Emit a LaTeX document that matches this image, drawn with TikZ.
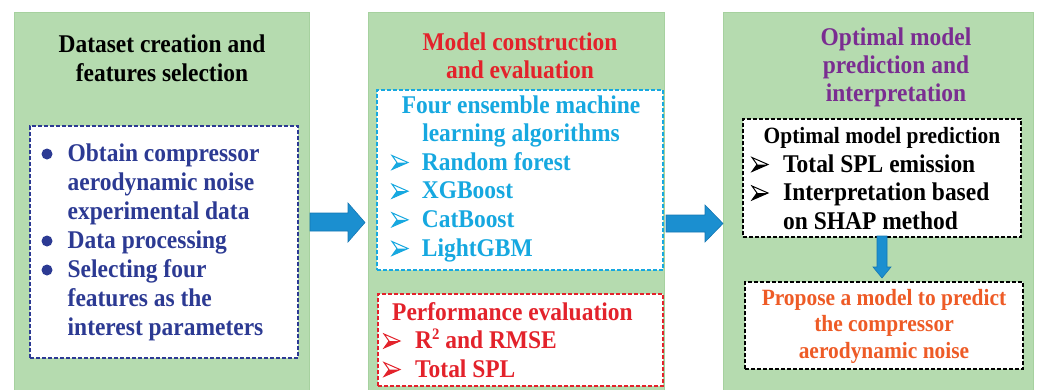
\documentclass[tikz,border=0pt]{standalone}
\usepackage{fontspec}
\setmainfont{Liberation Serif}[FakeStretch=0.92]
\definecolor{panelG}{HTML}{B5DBAF}
\definecolor{panelB}{HTML}{A6D19F}
\definecolor{navyT}{HTML}{2C3A93}
\definecolor{redT}{HTML}{E3222B}
\definecolor{cyanT}{HTML}{16A8E0}
\definecolor{purpT}{HTML}{7A2D91}
\definecolor{oranT}{HTML}{EE5B26}
\definecolor{arrF}{HTML}{1B8FD0}
\definecolor{arrD}{HTML}{1577B3}
\newcommand\harrow[3]{%
  \fill[#3] (#1,#2+7) -- (#1+16,#2) -- (#1+5,#2) -- cycle;
  \draw[#3,line width=1pt,line join=miter] (#1,#2-7) -- (#1+16,#2) -- (#1,#2+7) -- (#1+5,#2) -- cycle;}
\begin{document}
\begin{tikzpicture}[x=1pt,y=-1pt,
  panel/.style={draw=panelB,fill=panelG,line width=0.8pt,anchor=north west,inner sep=0},
  dbox/.style={draw,fill=white,line width=1.5pt,dash pattern=on 4pt off 2pt,anchor=north west,inner sep=0},
  big/.style={inner sep=0,font=\fontsize{25.5}{28}\selectfont\bfseries},
  small/.style={inner sep=0,font=\fontsize{23.3}{26}\selectfont\bfseries},
  blockarrow/.style={fill=arrF,draw=arrD,line width=0.6pt,line join=miter}]
\useasboundingbox (0,0) rectangle (1038,389);
\fill[white] (0,0) rectangle (1038,389);
% panels
\node[panel,minimum width=295pt,minimum height=385pt] (P1) at (14,12) {};
\node[panel,minimum width=296pt,minimum height=385pt] (P2) at (368,12) {};
\node[panel,minimum width=310pt,minimum height=385pt] (P3) at (723,12) {};
% dashed boxes
\node[dbox,draw=navyT,minimum width=268pt,minimum height=232pt] (B1) at (29,125) {};
\node[dbox,draw=cyanT,minimum width=286pt,minimum height=180pt] (B2) at (376,89) {};
\node[dbox,draw=redT,minimum width=285pt,minimum height=92pt] (B3) at (377,293) {};
\node[dbox,draw=black,minimum width=278pt,minimum height=118pt] (B4) at (742,118) {};
\node[dbox,draw=black,minimum width=278pt,minimum height=87pt] (B5) at (744,281) {};
% block arrows
\draw[blockarrow] (310,213) -- (348,213) -- (348,203) -- (365,222.5) -- (348,242) -- (348,231) -- (310,231) -- cycle;
\draw[blockarrow] (666,215) -- (705,215) -- (705,205) -- (723,223.5) -- (705,242) -- (705,232) -- (666,232) -- cycle;
\draw[blockarrow] (877,236) -- (887,236) -- (887,267) -- (891,267) -- (882,278) -- (873,267) -- (877,267) -- cycle;
% panel 1
\node[big,anchor=base] (t1a) at (162,52.3) {Dataset creation and};
\node[big,anchor=base] (t1b) at (162,81.7) {features selection};
\foreach \yy in {154,241,270} \fill[navyT] (47,\yy) circle (5.5);
\begin{scope}[every node/.style={big,anchor=base west,text=navyT}]
\node (l1) at (67.5,161.7) {Obtain compressor};
\node (l2) at (67.5,190.4) {aerodynamic noise};
\node (l3) at (67.5,219.2) {experimental data};
\node (l4) at (67.5,248.5) {Data processing};
\node (l5) at (67.5,277.5) {Selecting four};
\node (l6) at (67.5,306.3) {features as the};
\node (l7) at (67.5,335) {interest parameters};
\end{scope}
% panel 2
\node[big,anchor=base,text=redT] (t2a) at (520,50) {Model construction};
\node[big,anchor=base,text=redT] (t2b) at (520,78) {and evaluation};
\node[big,anchor=base,text=cyanT] (c0a) at (521,113) {Four ensemble machine};
\node[big,anchor=base,text=cyanT] (c0b) at (521,141.7) {learning algorithms};
\begin{scope}[every node/.style={big,anchor=base west,text=cyanT}]
\node (c1) at (421.7,170) {Random forest};
\node (c2) at (421.7,198.7) {XGBoost};
\node (c3) at (421.7,227.3) {CatBoost};
\node (c4) at (421.7,256) {LightGBM};
\end{scope}
\foreach \yy in {162.5,191.2,219.8,248.5} {\harrow{392}{\yy}{cyanT}}
\begin{scope}[every node/.style={big,anchor=base west,text=redT}]
\node (r0) at (392,320) {Performance evaluation};
\node (r1) at (415,348.5) {R\raisebox{0.36em}{\fontsize{16}{16}\selectfont 2} and RMSE};
\node (r2) at (415,377) {Total SPL};
\end{scope}
\foreach \yy in {341,369.5} {\harrow{384}{\yy}{redT}}
% panel 3
\node[big,anchor=base,text=purpT] (t3a) at (896,45) {Optimal model};
\node[big,anchor=base,text=purpT] (t3b) at (896,73.3) {prediction and};
\node[big,anchor=base,text=purpT] (t3c) at (896,101.7) {interpretation};
\node[small,anchor=base] (k0) at (882,143) {Optimal model prediction};
\begin{scope}[every node/.style={big,anchor=base west}]
\node (k1) at (783,172) {Total SPL emission};
\node (k2) at (783,200.5) {Interpretation based};
\node (k3) at (783,229) {on SHAP method};
\end{scope}
\foreach \yy in {164.5,193} {\harrow{752}{\yy}{black}}
\node[small,anchor=base,text=oranT] (o1) at (884,305) {Propose a model to predict};
\node[small,anchor=base,text=oranT] (o2) at (884,331.7) {the compressor};
\node[small,anchor=base,text=oranT] (o3) at (884,358) {aerodynamic noise};
\end{tikzpicture}
\end{document}
